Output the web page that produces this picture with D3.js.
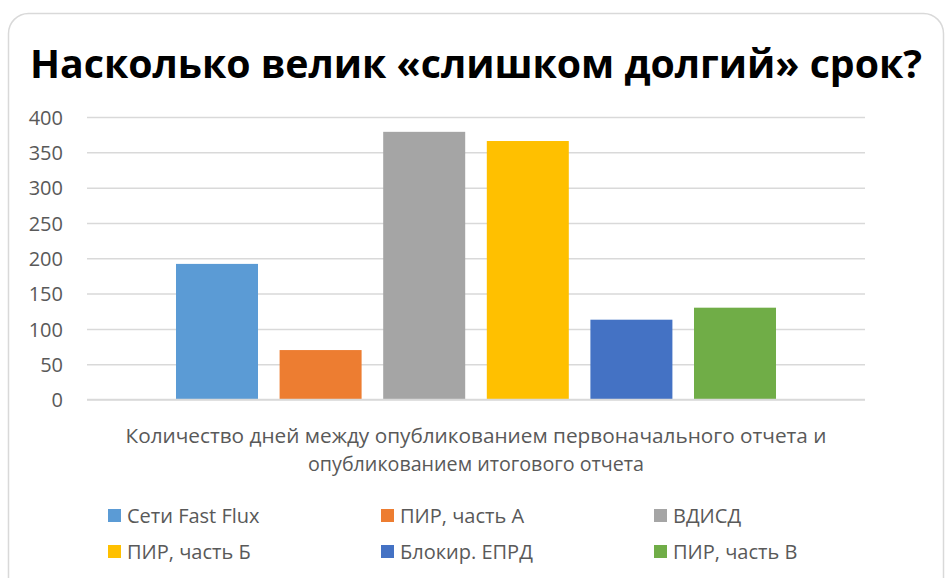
<!DOCTYPE html>
<meta charset="utf-8">
<html lang="ru">
  <head>
    <script src="https://cdn.jsdelivr.net/npm/d3@7"></script>
    <style>
      body { margin: 0; background: #fff; }
      text { font-family: 'Open Sans', sans-serif; }
    </style>
  </head>
  <body>
    <svg id="chart" width="946" height="578"></svg>
  <script>
    const title = 'Насколько велик «слишком долгий» срок?'
    const series = ['Сети Fast Flux', 'ПИР, часть А', 'ВДИСД', 'ПИР, часть Б', 'Блокир. ЕПРД', 'ПИР, часть В']
    const days = [192, 70, 379, 366, 113, 130]
    const colors = ['#5B9BD5', '#ED7D31', '#A5A5A5', '#FFC000', '#4472C4', '#70AD47']
    const yTicks = [0, 50, 100, 150, 200, 250, 300, 350, 400]
    const axisTitle = ['Количество дней между опубликованием первоначального отчета и',
                       'опубликованием итогового отчета']

    const svg = d3.select('#chart')

    // outer frame (rounded, runs off the bottom)
    svg.append('rect')
      .attr('x', 8.5).attr('y', 13.5)
      .attr('width', 935).attr('height', 620)
      .attr('rx', 20)
      .attr('fill', '#fff').attr('stroke', '#d9d9d9').attr('stroke-width', 1.5)

    svg.append('text')
      .attr('x', 30).attr('y', 78)
      .attr('font-size', 40).attr('font-weight', 700).attr('fill', '#000')
      .attr('textLength', 892).attr('lengthAdjust', 'spacingAndGlyphs')
      .text(title)

    const plotL = 87, plotR = 865, plotT = 117, plotB = 399.5

    const y = d3.scaleLinear().domain([0, 400]).range([plotB, plotT])
    const x = d3.scaleBand().domain(series).range([plotL, plotR])
      .paddingInner(0.2085).paddingOuter(0.859)

    // gridlines + labels via axis
    const yAxis = svg.append('g')
      .attr('transform', `translate(${plotL},0)`)
      .call(d3.axisLeft(y).tickValues(yTicks).tickSize(-(plotR - plotL)).tickPadding(24))
    yAxis.select('.domain').remove()
    yAxis.selectAll('line').attr('stroke', '#d9d9d9').attr('stroke-width', 1.5)
    yAxis.selectAll('text')
      .attr('font-family', "'Open Sans', sans-serif")
      .attr('font-size', 20).attr('fill', '#595959')
      .attr('dy', '0.36em')

    svg.append('g').selectAll('rect').data(days).enter()
      .append('rect')
        .attr('x', (d, i) => x(series[i]))
        .attr('y', d => y(d))
        .attr('width', x.bandwidth())
        .attr('height', d => y(0) - y(d))
        .attr('fill', (d, i) => colors[i])

    // baseline axis line on top of bars
    svg.append('line')
      .attr('x1', plotL).attr('x2', plotR)
      .attr('y1', y(0)).attr('y2', y(0))
      .attr('stroke', '#d9d9d9').attr('stroke-width', 1.5)

    const axisWidths = [701, 336]
    svg.append('g').selectAll('text').data(axisTitle).enter()
      .append('text')
        .attr('x', (plotL + plotR) / 2)
        .attr('y', (d, i) => 443 + i * 28)
        .attr('text-anchor', 'middle')
        .attr('font-size', 20).attr('fill', '#595959')
        .attr('textLength', (d, i) => axisWidths[i]).attr('lengthAdjust', 'spacingAndGlyphs')
        .text(d => d)

    const colX = [108, 381, 654], rowY = [523, 559]
    const legend = svg.append('g').selectAll('g').data(series).enter()
      .append('g')
        .attr('transform', (d, i) => `translate(${colX[i % 3]},${rowY[Math.floor(i / 3)]})`)
    legend.append('rect')
      .attr('x', 0).attr('y', -14).attr('width', 13).attr('height', 13)
      .attr('fill', (d, i) => colors[i])
    legend.append('text')
      .attr('x', 19).attr('y', 0)
      .attr('font-size', 20).attr('fill', '#595959')
      .text(d => d)
  </script>
  </body>
</html>
